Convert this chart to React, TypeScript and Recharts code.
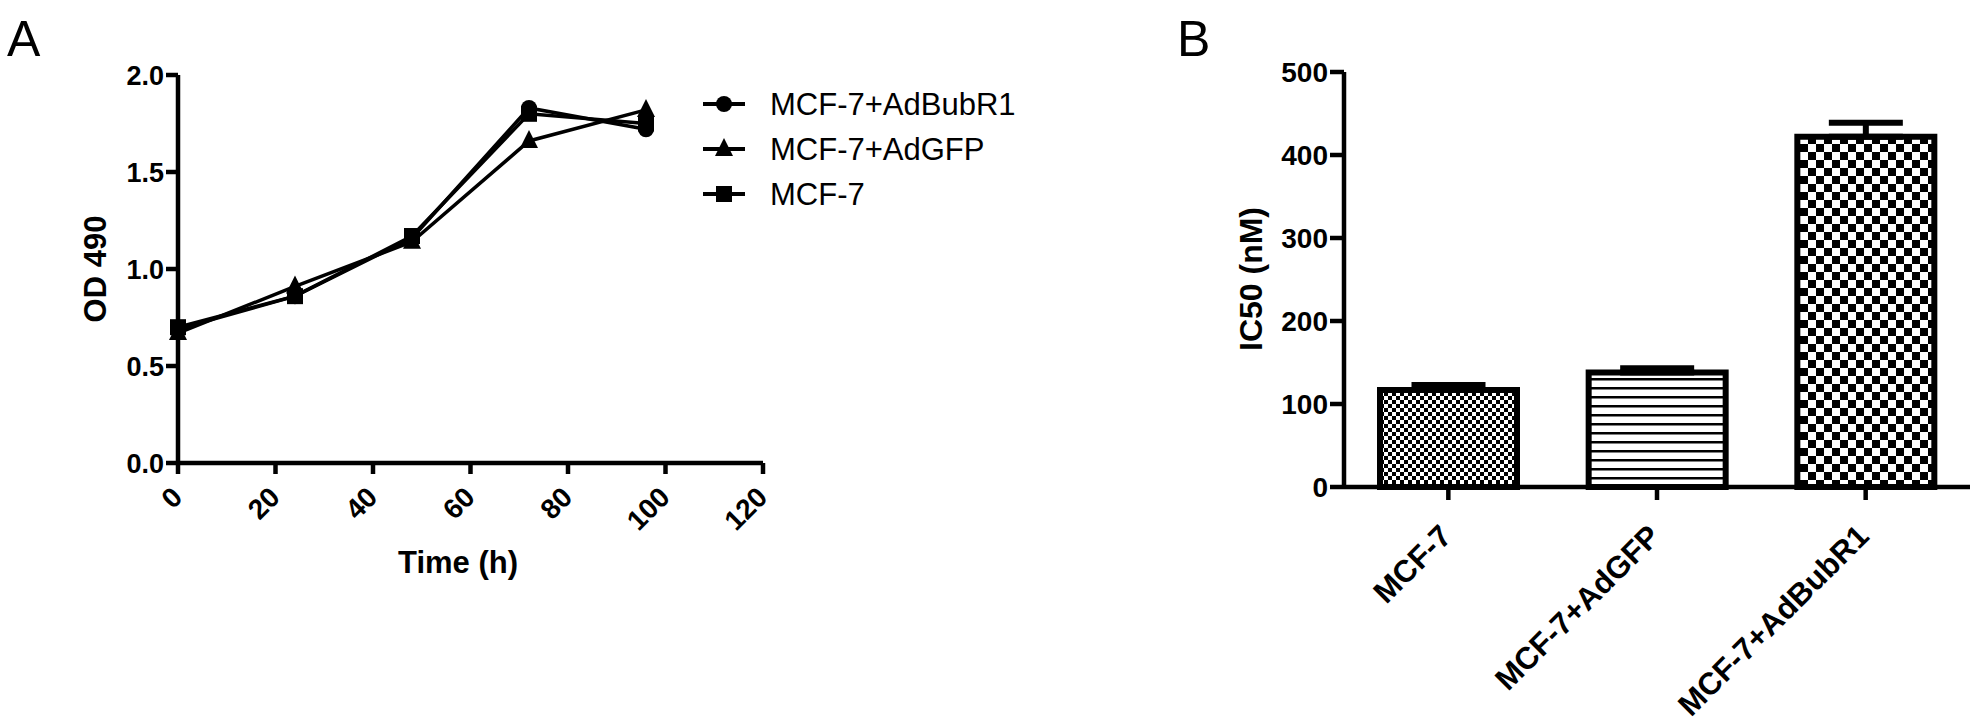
import { LineChart, Line, XAxis, YAxis, BarChart, Bar, Cell, ErrorBar } from 'recharts';

// panel A: growth curve (OD 490 over time)
const hours = [0, 24, 48, 72, 96];
const bubR1 = [0.69, 0.86, 1.16, 1.83, 1.72];
const adGfp = [0.67, 0.91, 1.14, 1.66, 1.82];
const mcf7 = [0.7, 0.86, 1.17, 1.8, 1.75];
const seriesNames = ['MCF-7+AdBubR1', 'MCF-7+AdGFP', 'MCF-7'];
const seriesMarkers = ['circle', 'triangle', 'square'];
const timeTicks = [0, 20, 40, 60, 80, 100, 120];
const odTicks = [0, 0.5, 1.0, 1.5, 2.0];

// panel B: IC50 bars
const groups = ['MCF-7', 'MCF-7+AdGFP', 'MCF-7+AdBubR1'];
const ic50 = [117, 138, 422];
const ic50Err = [6, 5, 17];
const ic50Ticks = [0, 100, 200, 300, 400, 500];

const FONT = '"Liberation Sans", Arial, Helvetica, sans-serif';

const lineData = hours.map((t, i) => ({ t, s0: bubR1[i], s1: adGfp[i], s2: mcf7[i] }));
const barData = groups.map((name, i) => ({ name, v: ic50[i], err: [0, ic50Err[i]] }));
const patterns = ['url(#fineCheck)', 'url(#hLines)', 'url(#bigCheck)'];

const Marker = ({ cx, cy, shape }: { cx: number; cy: number; shape: string }) => {
  if (shape === 'circle') return <circle cx={cx} cy={cy} r={8} fill="#000" />;
  if (shape === 'triangle')
    return <polygon points={`${cx},${cy - 11} ${cx - 9},${cy + 7} ${cx + 9},${cy + 7}`} fill="#000" />;
  return <rect x={cx - 8} y={cy - 8} width={16} height={16} fill="#000" />;
};

const AngledTick = (props: any) => {
  const { x, y, payload, size, offX, offY } = props;
  return (
    <g transform={`translate(${x + offX},${y + offY})`}>
      <text
        x={0}
        y={0}
        textAnchor="end"
        transform="rotate(-45)"
        fill="#000"
        fontFamily={FONT}
        fontWeight={700}
        fontSize={size}
      >
        {payload.value}
      </text>
    </g>
  );
};

const axisStyle = { stroke: '#000', strokeWidth: 4.5 };

const App = () => {
  return (
    <div style={{ position: 'absolute', left: 0, top: 0, width: 1979, height: 725, background: '#fff' }}>
      <div style={{ position: 'absolute', left: 0, top: 0 }}>
        <LineChart width={1000} height={725} data={lineData} margin={{ top: 75, right: 237, left: 0, bottom: 0 }}>
          <XAxis
            dataKey="t"
            type="number"
            domain={[0, 120]}
            ticks={timeTicks}
            interval={0}
            height={262}
            axisLine={axisStyle}
            tickLine={axisStyle}
            tickSize={11}
            tick={<AngledTick size={28} offX={6} offY={23} />}
          />
          <YAxis
            type="number"
            domain={[0, 2]}
            ticks={odTicks}
            interval={0}
            width={178}
            axisLine={axisStyle}
            tickLine={axisStyle}
            tickSize={12}
            tickFormatter={(v: number) => v.toFixed(1)}
            tick={{ fill: '#000', fontSize: 27, fontWeight: 700, fontFamily: FONT }}
          />
          {[bubR1, adGfp, mcf7].map((_, si) => (
            <Line
              key={seriesNames[si]}
              dataKey={`s${si}`}
              type="linear"
              stroke="#000"
              strokeWidth={3.5}
              isAnimationActive={false}
              dot={(p: any) => (
                <Marker key={`${si}-${p.index}`} cx={p.cx} cy={p.cy} shape={seriesMarkers[si]} />
              )}
              activeDot={false}
            />
          ))}
        </LineChart>
      </div>

      <div style={{ position: 'absolute', left: 1000, top: 0 }}>
        <BarChart width={979} height={725} data={barData} margin={{ top: 72, right: 9, left: 0, bottom: 0 }}>
          <defs>
            <pattern id="fineCheck" patternUnits="userSpaceOnUse" width={8} height={8}>
              <rect width={8} height={8} fill="#fff" />
              <rect width={4} height={4} fill="#000" />
              <rect x={4} y={4} width={4} height={4} fill="#000" />
            </pattern>
            <pattern id="hLines" patternUnits="userSpaceOnUse" width={10} height={9}>
              <rect width={10} height={9} fill="#fff" />
              <rect width={10} height={2.5} fill="#000" />
            </pattern>
            <pattern id="bigCheck" patternUnits="userSpaceOnUse" width={16} height={16}>
              <rect width={16} height={16} fill="#fff" />
              <rect width={8} height={8} fill="#000" />
              <rect x={8} y={8} width={8} height={8} fill="#000" />
            </pattern>
          </defs>
          <XAxis
            dataKey="name"
            type="category"
            interval={0}
            height={238}
            axisLine={axisStyle}
            tickLine={axisStyle}
            tickSize={13}
            tick={<AngledTick size={31} offX={5} offY={36} />}
          />
          <YAxis
            type="number"
            domain={[0, 500]}
            ticks={ic50Ticks}
            interval={0}
            width={344}
            axisLine={axisStyle}
            tickLine={axisStyle}
            tickSize={14}
            tick={{ fill: '#000', fontSize: 28, fontWeight: 700, fontFamily: FONT }}
          />
          <Bar dataKey="v" barSize={137} stroke="#000" strokeWidth={6} isAnimationActive={false}>
            {barData.map((d, i) => (
              <Cell key={d.name} fill={patterns[i]} />
            ))}
            <ErrorBar dataKey="err" direction="y" width={37} stroke="#000" strokeWidth={6} />
          </Bar>
        </BarChart>
      </div>

      <svg
        width={1979}
        height={725}
        style={{ position: 'absolute', left: 0, top: 0, pointerEvents: 'none' }}
        fontFamily={FONT}
      >
        <text x={7} y={56} fontSize={50} fill="#000">A</text>
        <text x={1177} y={56} fontSize={50} fill="#000">B</text>
        <text x={458} y={573} fontSize={31} fontWeight={700} textAnchor="middle" fill="#000">
          Time (h)
        </text>
        <text
          x={106}
          y={269}
          fontSize={31}
          fontWeight={700}
          textAnchor="middle"
          transform="rotate(-90 106 269)"
          fill="#000"
        >
          OD 490
        </text>
        <text
          x={1262}
          y={279}
          fontSize={32}
          fontWeight={700}
          textAnchor="middle"
          transform="rotate(-90 1262 279)"
          fill="#000"
        >
          IC50 (nM)
        </text>
        {seriesNames.map((name, i) => {
          const cy = 104 + i * 45;
          return (
            <g key={name}>
              <line x1={703} x2={745} y1={cy} y2={cy} stroke="#000" strokeWidth={4} />
              <Marker cx={724} cy={cy} shape={seriesMarkers[i]} />
              <text x={770} y={cy + 11} fontSize={31} fill="#000">
                {name}
              </text>
            </g>
          );
        })}
      </svg>
    </div>
  );
};

export default App;
